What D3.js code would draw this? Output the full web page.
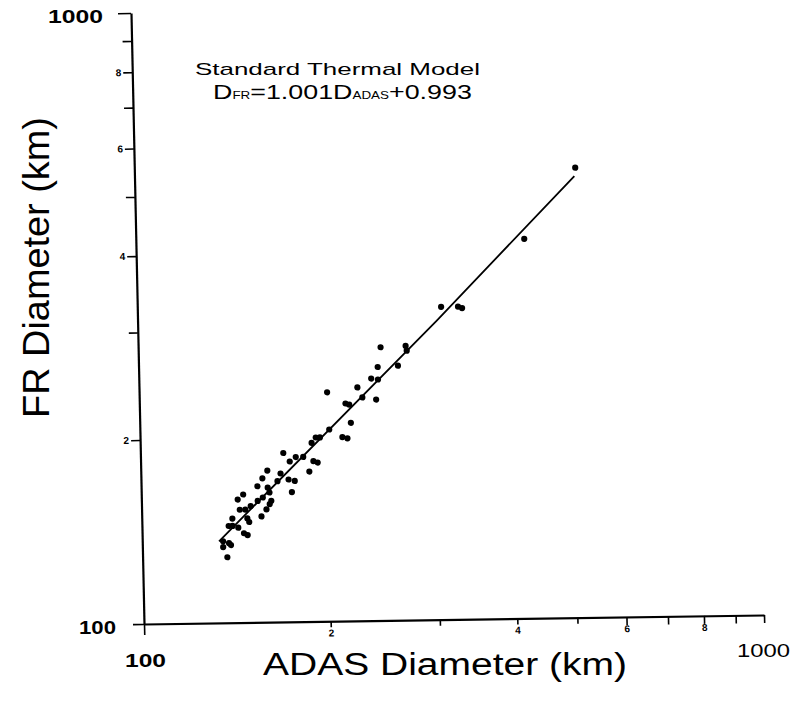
<!DOCTYPE html>
<html><head><meta charset="utf-8">
<script src="https://cdn.jsdelivr.net/npm/d3@7"></script>
<style>body{margin:0;background:#fff}</style>
</head><body>
<svg id="chart" width="798" height="711"></svg>
<script>
// ---- data ----
const adasDiameter = [514,423,309,329,334,246,270,271,243,262,237,243,225,201,229,215,218,241,219,202,212,216,192,195,189,183,190,193,187,170,178,174,168,160,157,173,177,166,154,160,175,161,157,162,146,143,154,161,150,144,147,159,156,140,148,149,138,140,143,146,148,135,138,139,135,137];
const frDiameter   = [545,418,325,325,323,280,281,276,260,261,249,248,241,237,232,227,226,230,211,206,200,199,200,200,196,186,183,182,176,189,186,183,175,177,172,171,170,170,167,166,163,163,160,158,162,159,158,156,155,153,153,153,149,148,148,146,144,144,143,140,139,136,135,134,133,128];
const fitADAS = [133, 304, 512];
const fitFR   = [136, 309, 528];
const tickValues = [100,200,300,400,500,600,700,800,900,1000];
const tickText = {200:"2",400:"4",600:"6",800:"8"};
const xTitle = "ADAS Diameter (km)";
const yTitle = "FR Diameter (km)";
const noteTitle = "Standard Thermal Model";

const svg = d3.select("#chart");
const FONT = "'Liberation Sans', Arial, sans-serif";

const x = d3.scaleLog().domain([100,1000]).range([144,764]);
const y = d3.scaleLog().domain([100,1000]).range([624,13]);

// slight skew of the scanned figure
const g = svg.append("g").attr("transform","matrix(1,-0.0145,0.0213,1,-13.29,2.088)");

const xAxis = d3.axisBottom(x).tickValues(tickValues).tickSize(6).tickSizeOuter(0).tickPadding(2)
  .tickFormat(d => tickText[d] || "");
const yAxis = d3.axisLeft(y).tickValues(tickValues).tickSize(9).tickSizeOuter(0).tickPadding(2)
  .tickFormat(d => tickText[d] || "");

const gx = g.append("g").attr("transform",`translate(0,${y(100)})`).call(xAxis);
const gy = g.append("g").attr("transform",`translate(${x(100)},0)`).call(yAxis);

[gx, gy].forEach(a => {
  a.select(".domain").attr("stroke","#000").attr("stroke-width",2.2);
  a.selectAll(".tick line").attr("stroke","#000").attr("stroke-width",1.6);
  a.selectAll(".tick text").attr("font-family",FONT).attr("font-size",10).attr("font-weight","bold").attr("fill","#000");
});
gx.selectAll(".tick line").attr("y2", d => d===100 ? 11 : (d>=600 ? 8 : 6));
gy.selectAll(".tick line").attr("x2", d => d===100 ? -11 : (d===1000 ? -13 : -9));

// fit line
const line = d3.line().x((d,i)=>x(fitADAS[i])).y((d,i)=>y(fitFR[i]));
g.append("path").datum(fitADAS).attr("d",line).attr("fill","none").attr("stroke","#000").attr("stroke-width",1.8);

// points
g.append("g").selectAll("circle").data(adasDiameter).join("circle")
  .attr("cx",(d)=>x(d)).attr("cy",(d,i)=>y(frDiameter[i])).attr("r",3.1).attr("fill","#000");

// corner labels
svg.append("text").attr("x",125).attr("y",667)
  .attr("font-family",FONT).attr("font-size",18).attr("font-weight","bold")
  .attr("textLength",41).attr("lengthAdjust","spacingAndGlyphs").text("100");
svg.append("text").attr("x",737).attr("y",657)
  .attr("font-family",FONT).attr("font-size",18)
  .attr("textLength",53).attr("lengthAdjust","spacingAndGlyphs").text("1000");
svg.append("text").attr("x",79).attr("y",634)
  .attr("font-family",FONT).attr("font-size",18).attr("font-weight","bold")
  .attr("textLength",37).attr("lengthAdjust","spacingAndGlyphs").text("100");
svg.append("text").attr("x",48).attr("y",23)
  .attr("font-family",FONT).attr("font-size",18).attr("font-weight","bold")
  .attr("textLength",55).attr("lengthAdjust","spacingAndGlyphs").text("1000");

// axis titles
svg.append("text").attr("x",263).attr("y",675)
  .attr("font-family",FONT).attr("font-size",31)
  .attr("textLength",364).attr("lengthAdjust","spacingAndGlyphs").text(xTitle);
svg.append("text").attr("transform","translate(49,418) rotate(-90)")
  .attr("font-family",FONT).attr("font-size",37)
  .attr("textLength",301).attr("lengthAdjust","spacingAndGlyphs").text(yTitle);

// annotation
svg.append("text").attr("x",195).attr("y",75)
  .attr("font-family",FONT).attr("font-size",17)
  .attr("textLength",285).attr("lengthAdjust","spacingAndGlyphs").text(noteTitle);

const eq = svg.append("text").attr("x",213).attr("y",99).attr("font-family",FONT).attr("font-size",20);
eq.append("tspan").text("D");
eq.append("tspan").attr("font-size",10).text("FR");
eq.append("tspan").text("=1.001D");
eq.append("tspan").attr("font-size",10).text("ADAS");
eq.append("tspan").text("+0.993");
const bb = eq.node().getBBox();
const sx = 259 / bb.width;
eq.attr("transform",`translate(213,0) scale(${sx},1) translate(-213,0)`);
</script>
</body></html>
